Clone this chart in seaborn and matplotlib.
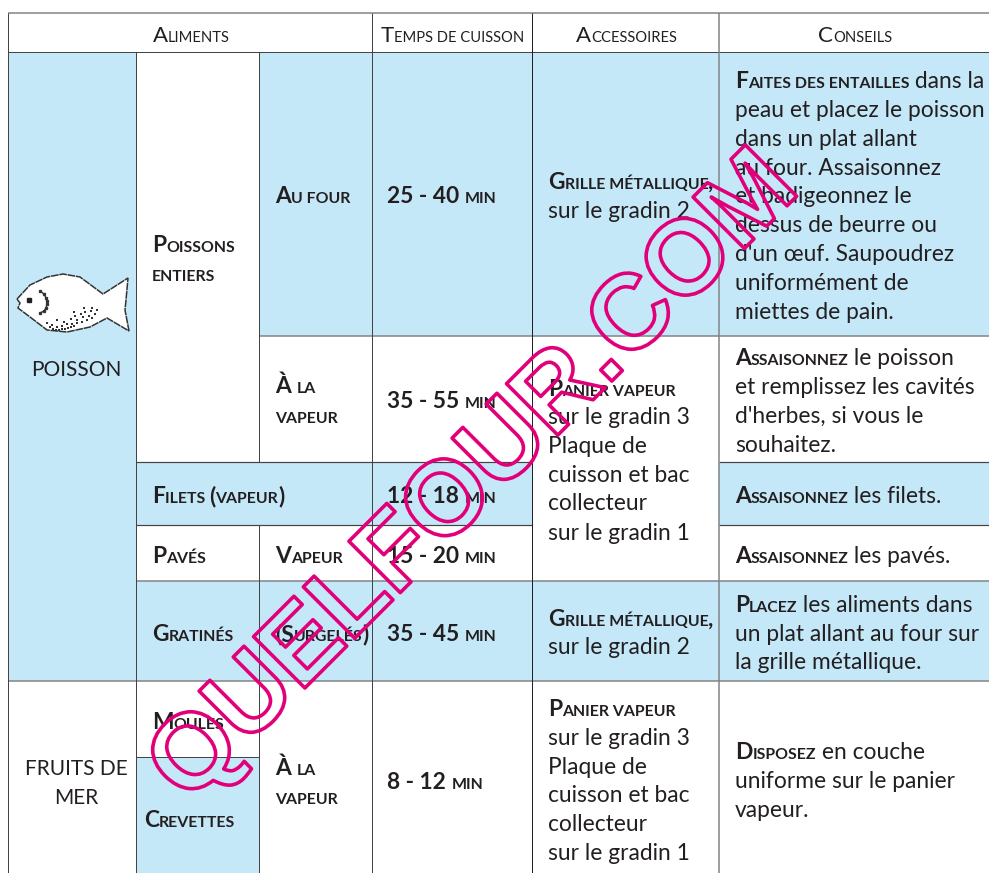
# ==========================
# TABLEAU DE CUISSON - POISSON
# ==========================

from itertools import groupby

import numpy as np
import matplotlib
matplotlib.use("Agg")
import matplotlib.pyplot as plt
import matplotlib.patheffects as pe
from matplotlib.colors import ListedColormap
from matplotlib.font_manager import FontProperties
from matplotlib.patches import Polygon
from matplotlib.textpath import text_to_path
import seaborn as sns

# --------------------------
# Table content
# --------------------------

header_labels = ["Aliments", "Temps de cuisson", "Accessoires", "Conseils"]

group_labels = ["POISSON", "FRUITS DE", "MER"]

food_labels = ["Poissons", "entiers", "Filets (vapeur)", "Pavés", "Gratinés", "Moules", "Crevettes"]

mode_labels = ["Au four", "À la", "vapeur", "Vapeur", "(Surgelés)", "À la", "vapeur"]

time_labels = ["25 - 40 min", "35 - 55 min", "12 - 18 min", "15 - 20 min", "35 - 45 min", "8 - 12 min"]

accessory_lines = [
    ("Grille métallique,", ""), ("", "sur le gradin 2"),
    ("Panier vapeur", ""), ("", "sur le gradin 3"), ("", "Plaque de"),
    ("", "cuisson et bac"), ("", "collecteur"), ("", "sur le gradin 1"),
    ("Grille métallique,", ""), ("", "sur le gradin 2"),
    ("Panier vapeur", ""), ("", "sur le gradin 3"), ("", "Plaque de"),
    ("", "cuisson et bac"), ("", "collecteur"), ("", "sur le gradin 1"),
]

advice_lines = [
    ("Faites des entailles", " dans la"), ("", "peau et placez le poisson"),
    ("", "dans un plat allant"), ("", "au four. Assaisonnez"),
    ("", "et badigeonnez le"), ("", "dessus de beurre ou"),
    ("", "d'un œuf. Saupoudrez"), ("", "uniformément de"), ("", "miettes de pain."),
    ("Assaisonnez", " le poisson"), ("", "et remplissez les cavités"),
    ("", "d'herbes, si vous le"), ("", "souhaitez."),
    ("Assaisonnez", " les filets."),
    ("Assaisonnez", " les pavés."),
    ("Placez", " les aliments dans"), ("", "un plat allant au four sur"),
    ("", "la grille métallique."),
    ("Disposez", " en couche"), ("", "uniforme sur le panier"), ("", "vapeur."),
]

watermark = "QUELFOUR.COM"

# 1 = blue cell, 0 = white cell (rows of the table, columns of the table)
cell_fill = [
    [0, 0, 0, 0, 0, 0],
    [1, 0, 1, 1, 1, 1],
    [1, 0, 0, 0, 0, 0],
    [1, 1, 1, 1, 0, 1],
    [1, 0, 0, 0, 0, 0],
    [1, 1, 1, 1, 1, 1],
    [0, 0, 0, 0, 0, 0],
    [0, 1, 0, 0, 0, 0],
]

# --------------------------
# Layout (pixels)
# --------------------------

W, H = 989, 873
col_edges = [8, 136, 259, 372, 532, 719, 989]
row_edges = [13, 52, 336, 462, 525, 581, 681, 757, 873]

BLUE = "#c5e8f9"
INK = "#231f20"
DARK_LINE = "#444444"
GREY_LINE = "#7f8385"
PINK = "#e2007a"

FONT = "Lato"
BIG = 16.4
SMALL = 11.4

sns.set_theme(style="white")
plt.rcParams["font.family"] = [FONT, "DejaVu Sans"]

fig = plt.figure(figsize=(W / 100, H / 100), dpi=100)
ax = fig.add_axes([0, 0, 1, 1])

# --------------------------
# Cell fills
# --------------------------

grid = np.zeros((H, W))
fill = np.array(cell_fill)
for r in range(fill.shape[0]):
    for c in range(fill.shape[1]):
        grid[row_edges[r]:row_edges[r + 1], col_edges[c]:col_edges[c + 1]] = fill[r, c]

sns.heatmap(
    grid,
    ax=ax,
    cmap=ListedColormap(["white", BLUE]),
    vmin=0,
    vmax=1,
    cbar=False,
    xticklabels=False,
    yticklabels=False,
)
ax.set_xlim(0, W)
ax.set_ylim(H, 0)
ax.set_axis_off()

# --------------------------
# Grid lines
# --------------------------

h_lines = [
    (13, 8, 989, GREY_LINE, 1.5), (52, 8, 989, DARK_LINE, 1),
    (336, 259, 989, GREY_LINE, 1.5),
    (462, 136, 532, DARK_LINE, 1.2), (462, 719, 989, DARK_LINE, 1.2),
    (525, 136, 532, DARK_LINE, 1.2), (525, 719, 989, DARK_LINE, 1.2),
    (581, 136, 989, GREY_LINE, 1.5),
    (681, 8, 989, GREY_LINE, 1.5),
    (757, 136, 259, DARK_LINE, 1),
]
v_lines = [
    (8, 13, 873, DARK_LINE, 1), (136, 52, 873, DARK_LINE, 1),
    (259, 52, 462, DARK_LINE, 1), (259, 525, 873, DARK_LINE, 1),
    (372, 13, 873, DARK_LINE, 1), (532, 13, 873, "#222222", 1),
    (719, 13, 873, GREY_LINE, 1.5),
]
for y, x0, x1, color, lw in h_lines:
    ax.plot([x0, x1], [y, y], color=color, lw=lw * 0.72, solid_capstyle="butt", zorder=3)
for x, y0, y1, color, lw in v_lines:
    ax.plot([x, x], [y0, y1], color=color, lw=lw * 0.72, solid_capstyle="butt", zorder=3)

# --------------------------
# Text helpers
# --------------------------


def advance(text, size, weight):
    # width in pixels, the bars keep the spaces at both ends
    fp = FontProperties(family=FONT, size=size, weight=weight)
    full = text_to_path.get_text_width_height_descent("|" + text + "|", fp, False)[0]
    bars = text_to_path.get_text_width_height_descent("||", fp, False)[0]
    return (full - bars) * 100 / 72


def small_caps(x, y, text, weight="bold", big=BIG, small=SMALL):
    # lower case letters become smaller capitals, a space stays with the run before it
    runs = []
    low = False
    for ch in text:
        if ch != " ":
            low = ch.islower()
        runs.append((low, ch))
    for is_low, group in groupby(runs, key=lambda item: item[0]):
        run = "".join(ch for _, ch in group)
        size = small if is_low else big
        shown = run.upper() if is_low else run
        ax.text(x, y, shown, fontsize=size, fontweight=weight, color=INK,
                va="baseline", ha="left", zorder=4)
        x += advance(shown, size, weight)
    return x


def mixed(x, y, sc_part, plain_part):
    if sc_part:
        x = small_caps(x, y, sc_part)
    if plain_part:
        ax.text(x, y, plain_part, fontsize=BIG, color=INK, va="baseline", ha="left", zorder=4)


# --------------------------
# Headers and cells
# --------------------------

header_x = [153, 381, 576, 818]
for label, x in zip(header_labels, header_x):
    small_caps(x, 42, label, weight="normal", big=16, small=10.6)

group_y = [376, 775, 804]
for label, y in zip(group_labels, group_y):
    ax.text(76, y, label, fontsize=15, color=INK, ha="center", va="baseline", zorder=4)

food_x = [152, 152, 152, 152, 152, 152, 144]
food_y = [252, 281, 503, 563, 641, 729, 827]
for label, x, y in zip(food_labels, food_x, food_y):
    small_caps(x, y, label)

mode_y = [203, 393, 423, 563, 641, 775, 804]
for label, y in zip(mode_labels, mode_y):
    small_caps(275, y, label)

time_y = [203, 408, 503, 563, 641, 789]
for label, y in zip(time_labels, time_y):
    small_caps(387, y, label)

accessory_y = [189, 218, 396, 424, 453, 482, 510, 540, 626, 654, 716, 745, 774, 802, 831, 860]
for (sc_part, plain_part), y in zip(accessory_lines, accessory_y):
    mixed(548, y, sc_part, plain_part)

advice_y = [88, 117, 146, 175, 203, 232, 261, 290, 319,
            365, 394, 423, 452, 503, 563, 612, 641, 669, 759, 788, 817]
for (sc_part, plain_part), y in zip(advice_lines, advice_y):
    mixed(735, y, sc_part, plain_part)

# --------------------------
# Fish icon
# --------------------------

fish_outline = [(17, 299), (30, 285), (47, 277), (63, 274), (80, 277), (103, 294),
                (128, 278), (126, 300), (125, 310), (129, 331), (107, 318), (90, 327),
                (67, 332), (47, 330), (30, 317), (18, 308), (20, 303)]
ax.add_patch(Polygon(fish_outline, closed=True, facecolor="white", edgecolor="#333333",
                     lw=1.1, ls=(0, (5, 0.5)), zorder=4))
gill_x = [40, 44, 46, 47, 47, 46, 44, 40]
gill_y = [291, 294, 298, 301, 304, 308, 311, 313]
ax.plot(gill_x, gill_y, color="#333333", lw=1.0, marker="s", ms=1.4, zorder=5)
ax.plot([29], [300], marker="s", ms=3, color="#222222", zorder=5)
scale_x = [47, 50, 53, 56, 59, 62, 65, 68, 71, 74, 52, 57, 62, 67, 72, 77, 82, 87, 92,
           57, 64, 71, 77, 83, 89, 95, 75, 81, 85, 91, 97, 74, 84, 92]
scale_y = [323, 327, 329, 330, 330, 329, 329, 328, 327, 326, 325, 327, 326, 324, 324, 323,
           322, 320, 318, 320, 322, 319, 320, 317, 316, 314, 316, 314, 312, 311, 310, 312, 308, 308]
ax.scatter(scale_x, scale_y, s=3, color="#333333", marker="s", lw=0, zorder=5)

# --------------------------
# Watermark
# --------------------------

ax.text(
    475, 479, watermark,
    fontsize=76, fontweight="bold", family="Liberation Sans",
    color="none", ha="center", va="center", rotation=45, rotation_mode="anchor",
    path_effects=[pe.Stroke(linewidth=2.6, foreground=PINK)],
    zorder=6,
)

fig.savefig("out.png", dpi=100)
